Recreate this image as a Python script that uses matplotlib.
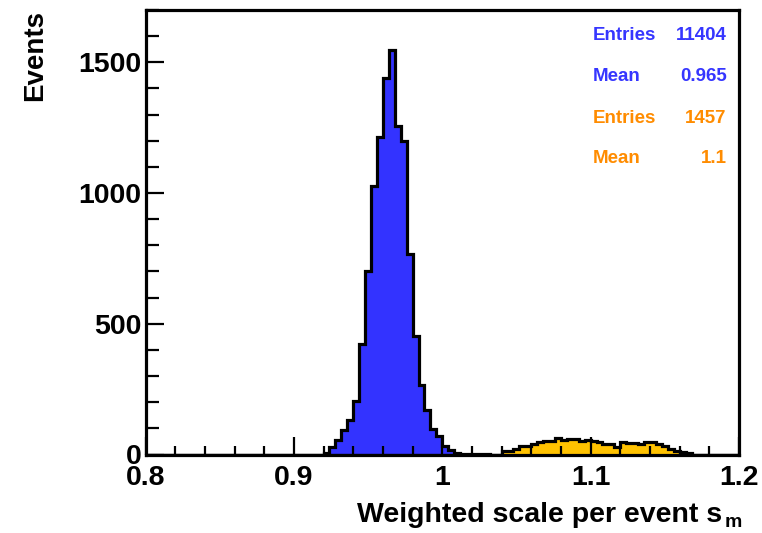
import numpy as np
import matplotlib
matplotlib.use("Agg")
import matplotlib.pyplot as plt
from matplotlib.ticker import MultipleLocator

plt.rcParams['font.family'] = ['Liberation Sans', 'DejaVu Sans']
plt.rcParams['font.weight'] = 'bold'

# ---- data (bin width 0.004 on 0.8..1.2) ----
x_min, x_max, n_bins = 0.8, 1.2, 100
blue_first_bin = 0.920
blue_counts = [4, 29, 55, 92, 131, 204, 423, 701, 1028, 1216, 1439, 1548,
               1255, 1200, 768, 452, 267, 172, 96, 70, 33, 18, 5, 3, 2, 2, 1, 1]
orange_first_bin = 1.040
orange_counts = [12, 13, 20, 31, 32, 40, 49, 50, 52, 62, 54, 61, 60, 50, 56, 53,
                 48, 41, 39, 30, 48, 45, 45, 42, 47, 46, 41, 31, 20, 14, 8, 4]

blue_stats = ["Entries", "11404", "Mean", "0.965"]
orange_stats = ["Entries", "1457", "Mean", "1.1"]
xtick_vals = [0.8, 0.9, 1.0, 1.1, 1.2]
xtick_labels = ["0.8", "0.9", "1", "1.1", "1.2"]
ytick_vals = [0, 500, 1000, 1500]
ytick_labels = ["0", "500", "1000", "1500"]
x_label = "Weighted scale per event s"
x_label_sub = "m"
y_label = "Events"

BLUE_FILL = "#3333ff"
ORANGE_FILL = "#ffc200"
BLUE_TXT = "#3636ff"
ORANGE_TXT = "#ff8c00"

edges = np.linspace(x_min, x_max, n_bins + 1)
width = (x_max - x_min) / n_bins

def full_hist(first, counts):
    h = np.zeros(n_bins)
    i0 = int(round((first - x_min) / width))
    h[i0:i0 + len(counts)] = counts
    return h

h_blue = full_hist(blue_first_bin, blue_counts)
h_orange = full_hist(orange_first_bin, orange_counts)

W, H = 762, 533
fig = plt.figure(figsize=(W / 100, H / 100), dpi=100)
ax = fig.add_axes([145.5 / W, (H - 454.5) / H, (739 - 145.5) / W, (454.5 - 10) / H])

lw = 2.3
ax.stairs(h_blue, edges, fill=True, color=BLUE_FILL, zorder=1)
ax.stairs(h_blue, edges, color="black", lw=lw, baseline=0, zorder=1.1)
ax.stairs(h_orange, edges, fill=True, color=ORANGE_FILL, zorder=1.2)
ax.stairs(h_orange, edges, color="black", lw=lw, baseline=0, zorder=1.3)

ax.set_xlim(x_min, x_max)
ax.set_ylim(0, 1700)
ax.set_xticks(xtick_vals)
ax.set_xticklabels(xtick_labels)
ax.set_yticks(ytick_vals)
ax.set_yticklabels(ytick_labels)
ax.xaxis.set_minor_locator(MultipleLocator(0.02))
ax.yaxis.set_minor_locator(MultipleLocator(100))

for s in ax.spines.values():
    s.set_linewidth(2.3)
    s.set_zorder(3)

ax.tick_params(axis='both', which='both', direction='in', top=False, right=False,
               width=1.6, labelsize=20.5)
ax.tick_params(axis='x', which='major', length=13, pad=7.5)
ax.tick_params(axis='x', which='minor', length=6.5)
ax.tick_params(axis='y', which='major', length=13, pad=3)
ax.tick_params(axis='y', which='minor', length=9)
for lab in ax.get_xticklabels() + ax.get_yticklabels():
    lab.set_fontweight('bold')

# axis titles
fig.text(35 / W, 1 - 10 / H, y_label, rotation=90, ha='center', va='top',
         fontsize=20, fontweight='bold')
fig.text(722 / W, 1 - 522 / H, x_label, ha='right', va='baseline',
         fontsize=20.5, fontweight='bold')
fig.text(725 / W, 1 - 527 / H, x_label_sub, ha='left', va='baseline',
         fontsize=14, fontweight='bold')

# stats text
rows = [(blue_stats[0], blue_stats[1], BLUE_TXT, 40),
        (blue_stats[2], blue_stats[3], BLUE_TXT, 81),
        (orange_stats[0], orange_stats[1], ORANGE_TXT, 123.3),
        (orange_stats[2], orange_stats[3], ORANGE_TXT, 163.3)]
for name, val, col, yb in rows:
    fig.text(592.7 / W, 1 - yb / H, name, ha='left', va='baseline',
             fontsize=13.5, fontweight='bold', color=col)
    fig.text(726.7 / W, 1 - yb / H, val, ha='right', va='baseline',
             fontsize=13.5, fontweight='bold', color=col)

fig.savefig("out.png", dpi=100)
